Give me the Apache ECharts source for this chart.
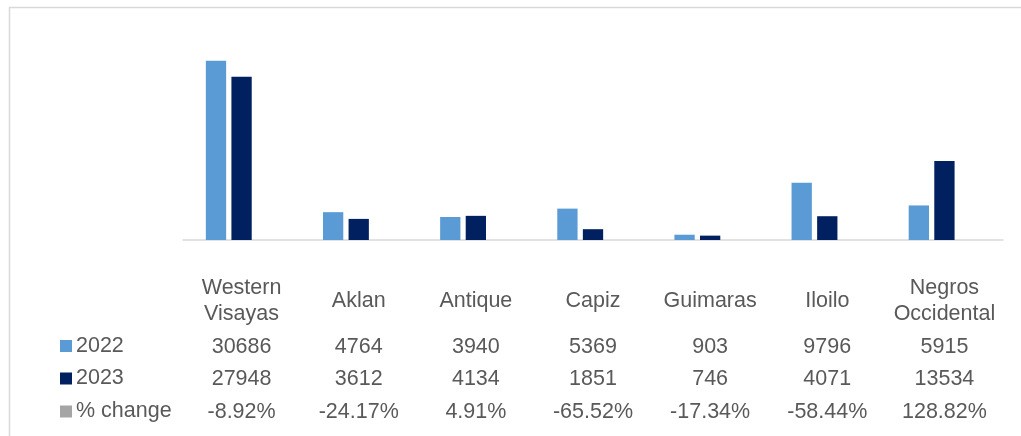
<!DOCTYPE html>
<html>
  <head>
    <meta charset="utf-8" />
    <title>Western Visayas 2022 vs 2023</title>
    <script src="https://cdn.jsdelivr.net/npm/echarts@6/dist/echarts.min.js"></script>
    <style>
      html, body { margin: 0; padding: 0; background: #fff; }
    </style>
  </head>
  <body>
    <div id="main" style="width: 1021px;height: 436px;"></div>
    <script type="text/javascript">
      var categories = ['Western\nVisayas', 'Aklan', 'Antique', 'Capiz', 'Guimaras', 'Iloilo', 'Negros\nOccidental']
      var values2022 = [30686, 4764, 3940, 5369, 903, 9796, 5915]
      var values2023 = [27948, 3612, 4134, 1851, 746, 4071, 13534]
      var pctChange = [-8.92, -24.17, 4.91, -65.52, -17.34, -58.44, 128.82]
      var seriesNames = ['2022', '2023', '% change']
      var seriesColors = ['#5b9bd5', '#002060', '#a5a5a5']

      var textColor = '#595959'
      var fontFamily = '"Liberation Sans", Arial, sans-serif'
      var fontSize = 21.5
      var rowCenters = [347, 379.5, 412.5]
      var baseline = 240

      var myChart = echarts.init(document.getElementById('main'));

      // data table rows are extra category axes under the plot
      function tableAxis(labels, center) {
        return {
          type: 'category',
          data: labels,
          position: 'bottom',
          axisLine: { show: false },
          axisTick: { show: false },
          axisLabel: {
            interval: 0,
            margin: center - baseline,
            verticalAlign: 'middle',
            color: textColor,
            fontFamily: fontFamily,
            fontSize: fontSize
          }
        }
      }

      var legends = seriesNames.map(function (name, i) {
        return {
          data: [name],
          left: 55,
          top: rowCenters[i] - 17,
          icon: 'rect',
          itemWidth: 12,
          itemHeight: 12,
          selectedMode: false,
          textStyle: {
            color: textColor,
            fontFamily: fontFamily,
            fontSize: fontSize,
            lineHeight: 22,
            padding: [0, 0, 0, -1]
          }
        }
      })

      var option = {
        animation: false,
        color: seriesColors,
        legend: legends,
        grid: { left: 183, right: 18, top: 35.5, height: 204.5 },
        graphic: [{
          type: 'rect',
          shape: { x: 9.5, y: 7.5, width: 1100, height: 500 },
          style: { fill: 'none', stroke: '#d9d9d9', lineWidth: 1.5 },
          silent: true
        }],
        xAxis: [
          {
            type: 'category',
            data: categories,
            axisLine: { lineStyle: { color: '#d9d9d9', width: 1.5 } },
            axisTick: { show: false },
            axisLabel: {
              interval: 0,
              margin: 301 - baseline,
              verticalAlign: 'middle',
              lineHeight: 25.5,
              color: textColor,
              fontFamily: fontFamily,
              fontSize: fontSize
            }
          },
          tableAxis(values2022.map(String), rowCenters[0]),
          tableAxis(values2023.map(String), rowCenters[1]),
          tableAxis(pctChange.map(function (v) { return v.toFixed(2) + '%' }), rowCenters[2])
        ],
        yAxis: {
          type: 'value',
          min: 0,
          max: 35000,
          show: false,
          splitLine: { show: false }
        },
        series: [
          {
            name: seriesNames[0],
            type: 'bar',
            data: values2022,
            barGap: '26%',
            barCategoryGap: '39%'
          },
          {
            name: seriesNames[1],
            type: 'bar',
            data: values2023
          },
          {
            name: seriesNames[2],
            type: 'bar',
            data: pctChange.map(function (v) { return v / 100 })
          }
        ]
      }

      myChart.setOption(option);
    </script>
  </body>
</html>
